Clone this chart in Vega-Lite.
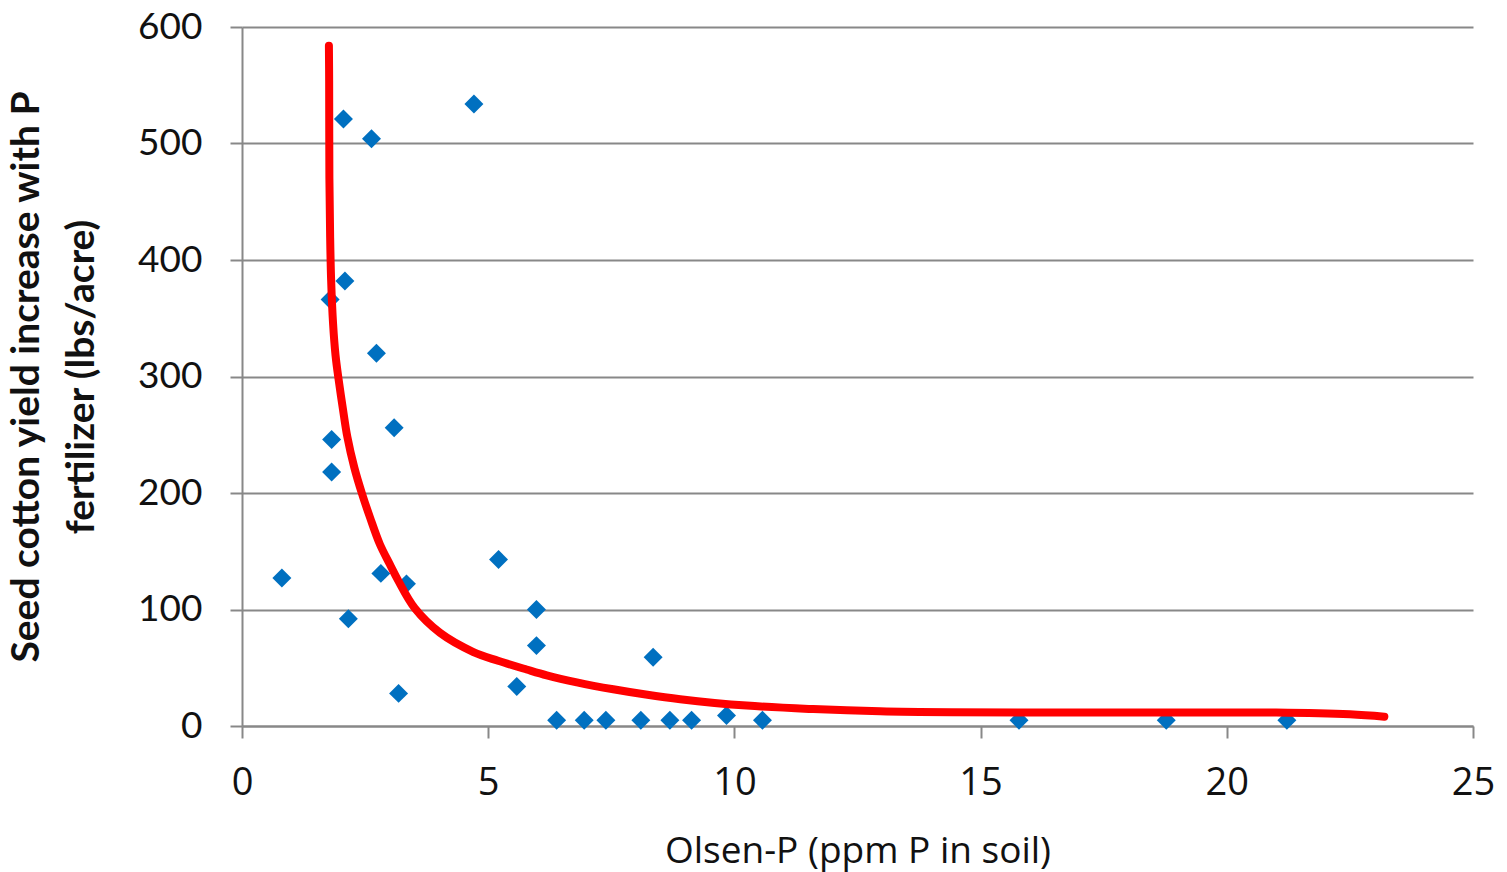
{
  "$schema": "https://vega.github.io/schema/vega-lite/v6.json",
  "width": 1231,
  "height": 699,
  "autosize": "none",
  "padding": {"left": 242, "top": 27, "right": 34, "bottom": 146},
  "background": "white",
  "config": {"view": {"stroke": null}},
  "datasets": {
    "pts": [
      {"p": 0.81, "y": 127}, {"p": 1.79, "y": 366}, {"p": 1.82, "y": 246}, {"p": 1.82, "y": 218},
      {"p": 2.06, "y": 521}, {"p": 2.09, "y": 382}, {"p": 2.16, "y": 92}, {"p": 2.63, "y": 504},
      {"p": 2.73, "y": 320}, {"p": 2.82, "y": 131}, {"p": 3.09, "y": 256}, {"p": 3.18, "y": 28},
      {"p": 3.34, "y": 122}, {"p": 4.71, "y": 534}, {"p": 5.21, "y": 143}, {"p": 5.58, "y": 34},
      {"p": 5.98, "y": 100}, {"p": 5.98, "y": 69}, {"p": 6.39, "y": 5}, {"p": 6.95, "y": 5},
      {"p": 7.39, "y": 5}, {"p": 8.10, "y": 5}, {"p": 8.35, "y": 59}, {"p": 8.69, "y": 5},
      {"p": 9.13, "y": 5}, {"p": 9.84, "y": 9}, {"p": 10.57, "y": 5}, {"p": 15.78, "y": 5},
      {"p": 18.77, "y": 5}, {"p": 21.22, "y": 5}
    ],
    "curve": [
      {"p": 1.765, "y": 584}, {"p": 1.77, "y": 554}, {"p": 1.775, "y": 470}, {"p": 1.79, "y": 420},
      {"p": 1.81, "y": 383}, {"p": 1.85, "y": 345}, {"p": 1.9, "y": 318}, {"p": 1.96, "y": 298},
      {"p": 2.05, "y": 272}, {"p": 2.14, "y": 248}, {"p": 2.28, "y": 222}, {"p": 2.44, "y": 199},
      {"p": 2.6, "y": 179}, {"p": 2.8, "y": 156}, {"p": 3.0, "y": 139}, {"p": 3.17, "y": 125},
      {"p": 3.51, "y": 101}, {"p": 4.02, "y": 80}, {"p": 4.7, "y": 63.5}, {"p": 5.2, "y": 56},
      {"p": 5.78, "y": 48.5}, {"p": 6.19, "y": 43.5}, {"p": 6.8, "y": 37.5}, {"p": 7.54, "y": 31.5},
      {"p": 8.2, "y": 27}, {"p": 8.9, "y": 23}, {"p": 10.25, "y": 17.5}, {"p": 11.6, "y": 14.5},
      {"p": 12.96, "y": 12.6}, {"p": 14.4, "y": 11.8}, {"p": 17.0, "y": 11.5}, {"p": 21.0, "y": 11.5},
      {"p": 22.5, "y": 10}, {"p": 23.2, "y": 8}
    ]
  },
  "encoding": {
    "x": {
      "field": "p", "type": "quantitative",
      "scale": {"domain": [0, 25], "nice": false, "zero": false},
      "axis": {
        "title": "Olsen-P (ppm P in soil)",
        "values": [0, 5, 10, 15, 20, 25],
        "grid": false,
        "domainColor": "#888888", "domainWidth": 2,
        "tickColor": "#888888", "tickWidth": 2, "tickSize": 12,
        "labelFont": "Open Sans", "labelFontSize": 38, "labelColor": "#111111", "labelPadding": 26,
        "labelFlush": false,
        "titleFont": "Open Sans", "titleFontSize": 37, "titleFontWeight": "normal", "titleColor": "#111111",
        "titlePadding": 31
      }
    },
    "y": {
      "field": "y", "type": "quantitative",
      "scale": {"domain": [0, 600], "nice": false},
      "axis": {
        "title": ["Seed cotton yield increase with P", "fertilizer (lbs/acre)"],
        "values": [0, 100, 200, 300, 400, 500, 600],
        "grid": true, "gridColor": "#888888", "gridWidth": 2,
        "domainColor": "#888888", "domainWidth": 2,
        "tickColor": "#888888", "tickWidth": 2, "tickSize": 12,
        "labelFont": "Lato", "labelFontSize": 37, "labelColor": "#111111", "labelPadding": 28,
        "titleFont": "Lato", "titleFontSize": 39, "titleFontWeight": "bold", "titleColor": "#111111",
        "titleLineHeight": 55, "titlePadding": 36
      }
    }
  },
  "layer": [
    {
      "data": {"name": "pts"},
      "mark": {"type": "point", "shape": "diamond", "filled": true, "color": "#0070C0", "opacity": 1, "size": 360}
    },
    {
      "data": {"name": "curve"},
      "mark": {"type": "line", "color": "#FF0000", "strokeWidth": 8, "interpolate": "catmull-rom", "strokeCap": "round"}
    }
  ]
}
